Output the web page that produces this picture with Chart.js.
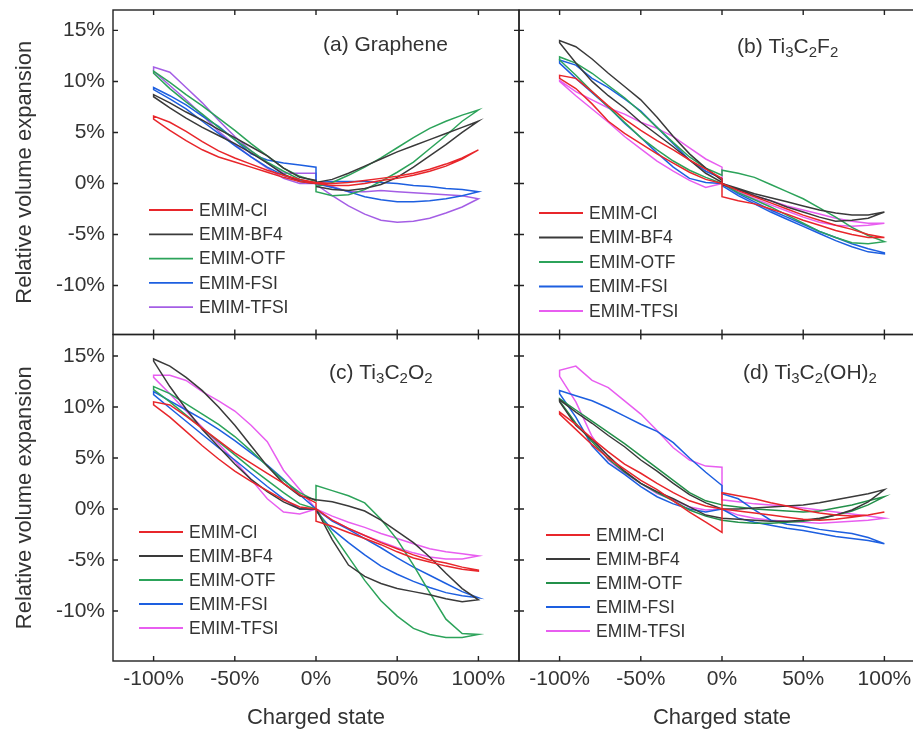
<!DOCTYPE html>
<html>
<head>
<meta charset="utf-8">
<script src="https://cdn.jsdelivr.net/npm/chart.js@4.4.0/dist/chart.umd.min.js"></script>
<style>
  html, body { margin: 0; padding: 0; background: #fff; overflow: hidden; }
  #wrap { position: relative; width: 913px; height: 732px; overflow: hidden; background: #fff; }
  #wrap canvas { position: absolute; left: 0; top: 0; }
</style>
</head>
<body>
<div id="wrap">
  <canvas id="pa" width="940" height="732"></canvas>
  <canvas id="pb" width="940" height="732"></canvas>
  <canvas id="pc" width="940" height="732"></canvas>
  <canvas id="pd" width="940" height="732"></canvas>
</div>
<script>
// Relative volume expansion vs charged state, four electrodes x five EMIM electrolytes
const NEG_X = [-100, -90, -80, -70, -60, -50, -40, -30, -20, -10, 0];
const POS_X = [0, 10, 20, 30, 40, 50, 60, 70, 80, 90, 100];
const X_TICKS = [-100, -50, 0, 50, 100];
const Y_TICKS = [-10, -5, 0, 5, 10, 15];
const SERIES = ['EMIM-Cl', 'EMIM-BF4', 'EMIM-OTF', 'EMIM-FSI', 'EMIM-TFSI'];

// each loop: [neg branch out, neg branch back, pos branch out, pos branch back] (values in %)
// (a) Graphene
const aCl   = [[6.6,6.0,5.1,4.1,3.2,2.5,1.9,1.3,0.8,0.4,0.1], [6.3,5.2,4.2,3.3,2.6,2.1,1.6,1.1,0.6,0.2,0.0],
               [0.0,-0.2,-0.2,0.0,0.3,0.5,0.8,1.2,1.7,2.4,3.3], [0.1,0.0,0.1,0.3,0.5,0.7,1.0,1.4,1.9,2.5,3.3]];
const aBF4  = [[8.5,7.4,6.4,5.5,4.7,3.9,3.0,2.0,0.9,0.2,0.0], [8.7,7.9,7.0,6.2,5.3,4.5,3.6,2.7,1.5,0.6,0.3],
               [0.1,0.4,1.0,1.7,2.4,3.1,3.7,4.3,4.9,5.5,6.1], [-0.3,-0.6,-0.7,-0.5,-0.1,0.6,1.6,2.7,3.8,5.0,6.1]];
const aOTF  = [[10.8,9.3,8.0,6.8,5.5,4.3,3.2,2.1,1.2,0.4,0.0], [11.0,9.9,8.7,7.6,6.4,5.2,3.9,2.7,1.5,0.7,0.2],
               [-0.8,-1.2,-1.1,-0.6,0.2,1.1,2.1,3.4,4.7,6.1,7.2], [-0.3,0.1,0.8,1.6,2.5,3.5,4.5,5.4,6.1,6.7,7.2]];
const aFSI  = [[9.2,8.3,7.3,6.1,4.9,3.7,2.6,1.6,0.8,0.3,0.0], [9.4,8.6,7.7,6.6,5.6,4.3,2.9,2.3,2.0,1.8,1.6],
               [0.1,0.2,0.2,0.2,0.1,0.0,-0.2,-0.3,-0.5,-0.6,-0.8], [0.0,-0.4,-0.8,-1.3,-1.6,-1.8,-1.8,-1.7,-1.5,-1.2,-0.8]];
const aTFSI = [[11.0,9.6,8.2,6.7,5.1,3.8,2.6,1.5,0.5,0.0,0.0], [11.4,10.9,9.4,7.9,6.2,4.6,3.2,2.0,1.0,1.0,1.0],
               [0.0,-0.3,-0.8,-0.8,-0.7,-0.8,-0.9,-1.0,-1.1,-1.2,-1.5], [-0.1,-1.2,-2.2,-3.0,-3.6,-3.8,-3.7,-3.4,-2.9,-2.3,-1.5]];

// (b) Ti3C2F2
const bCl   = [[10.3,9.3,7.8,6.1,4.9,3.9,2.9,2.0,1.1,0.4,0.0], [10.6,10.3,9.0,7.6,6.3,5.2,4.2,3.3,2.3,1.4,0.5],
               [-1.3,-1.7,-2.0,-2.5,-3.0,-3.6,-4.1,-4.6,-5.0,-5.3,-5.3], [0.0,-0.7,-1.3,-1.9,-2.5,-3.1,-3.6,-4.1,-4.5,-5.0,-5.3]];
const bBF4  = [[13.8,11.8,10.0,8.6,7.4,6.0,4.8,3.6,2.3,1.0,0.1], [14.0,13.4,12.2,10.8,9.5,8.2,6.5,4.6,2.9,1.5,0.3],
               [0.0,-0.5,-1.0,-1.4,-1.8,-2.2,-2.6,-2.9,-3.1,-3.1,-2.8], [-0.1,-0.6,-1.2,-1.7,-2.3,-2.8,-3.3,-3.7,-3.6,-3.4,-2.8]];
const bOTF  = [[12.1,10.6,9.0,7.5,6.0,4.5,3.3,2.2,1.3,0.6,0.0], [12.4,11.8,10.8,9.6,8.4,7.0,5.5,4.0,2.6,1.5,0.8],
               [1.3,1.0,0.6,-0.1,-0.8,-1.5,-2.4,-3.3,-4.3,-5.1,-5.7], [0.0,-0.9,-1.6,-2.3,-3.1,-3.9,-4.7,-5.3,-5.8,-5.9,-5.7]];
const bFSI  = [[11.8,10.3,8.9,7.5,5.9,4.5,3.0,1.6,0.5,0.1,0.0], [12.1,11.6,10.3,9.4,8.3,7.1,5.5,3.9,2.3,1.2,0.5],
               [0.0,-1.0,-1.8,-2.6,-3.3,-4.0,-4.7,-5.3,-5.9,-6.4,-6.8], [-0.2,-1.2,-2.0,-2.8,-3.5,-4.2,-4.9,-5.6,-6.2,-6.7,-6.9]];
const bTFSI = [[10.0,8.6,7.3,6.0,4.6,3.4,2.2,1.2,0.3,-0.4,0.0], [10.1,9.0,8.2,7.4,6.8,6.0,5.4,4.6,3.5,2.4,1.6],
               [0.0,-0.6,-1.2,-1.7,-2.2,-2.6,-3.0,-3.4,-3.7,-3.9,-3.9], [-0.1,-0.8,-1.5,-2.1,-2.7,-3.3,-3.8,-4.1,-4.2,-4.1,-3.9]];

// (c) Ti3C2O2
const cCl   = [[10.2,9.0,7.6,6.2,4.9,3.7,2.7,1.8,0.9,0.2,0.0], [10.5,10.2,9.1,7.9,6.7,5.5,4.5,3.5,2.5,1.4,0.6],
               [-1.2,-1.7,-2.3,-2.9,-3.5,-4.2,-4.8,-5.2,-5.6,-5.9,-6.1], [0.0,-1.1,-1.9,-2.6,-3.3,-3.9,-4.5,-5.0,-5.3,-5.7,-6.0]];
const cBF4  = [[14.5,12.0,9.8,7.8,6.1,4.4,2.9,1.7,0.7,0.0,0.0], [14.7,14.0,12.9,11.6,10.0,8.2,6.2,4.2,2.5,1.3,0.9],
               [0.9,0.7,0.3,-0.2,-1.1,-2.2,-3.3,-4.7,-6.3,-7.8,-8.9], [0.0,-3.0,-5.5,-6.6,-7.3,-7.8,-8.1,-8.4,-8.8,-9.1,-8.9]];
const cOTF  = [[11.7,10.5,9.2,7.9,6.6,5.3,4.0,2.8,1.6,0.5,0.0], [12.0,11.3,10.3,9.3,8.3,7.1,5.7,4.2,2.8,1.6,0.8],
               [2.3,1.8,1.3,0.6,-1.0,-3.0,-5.5,-8.2,-10.8,-12.2,-12.3], [0.0,-2.4,-4.7,-7.0,-9.0,-10.5,-11.7,-12.3,-12.6,-12.6,-12.3]];
const cFSI  = [[11.2,9.9,8.6,7.3,6.0,4.8,3.5,2.2,1.0,0.0,0.0], [11.5,10.6,9.7,8.8,7.8,6.7,5.5,4.3,2.9,1.4,0.0],
               [0.0,-1.2,-2.0,-2.9,-3.8,-4.8,-5.7,-6.5,-7.3,-8.1,-8.7], [-0.2,-2.0,-3.3,-4.5,-5.6,-6.4,-7.1,-7.7,-8.2,-8.5,-8.7]];
const cTFSI = [[12.9,11.3,9.6,8.0,6.4,4.7,2.9,1.0,-0.3,-0.5,0.0], [13.1,13.1,12.6,11.5,10.6,9.6,8.2,6.6,3.8,1.9,0.0],
               [0.0,-0.7,-1.3,-1.8,-2.4,-2.9,-3.4,-3.9,-4.2,-4.4,-4.6], [-0.1,-1.1,-1.9,-2.6,-3.2,-3.8,-4.3,-4.7,-4.9,-4.9,-4.6]];

// (d) Ti3C2(OH)2
const dCl   = [[9.5,8.3,6.9,5.6,4.4,3.5,2.5,1.6,0.8,0.3,0.0], [9.3,7.8,6.3,5.0,3.9,2.8,1.9,0.8,-0.3,-1.3,-2.3],
               [1.6,1.3,1.0,0.6,0.3,-0.1,-0.4,-0.6,-0.7,-0.6,-0.3], [0.0,-0.2,-0.4,-0.6,-0.8,-1.0,-1.1,-1.0,-0.8,-0.6,-0.3]];
const dBF4  = [[10.7,9.5,8.4,7.2,6.1,4.8,3.7,2.5,1.4,0.6,0.0], [10.5,8.2,6.8,5.2,3.7,2.5,1.7,1.0,0.2,-0.6,-0.9],
               [-0.9,-1.0,-1.1,-1.2,-1.2,-1.1,-0.9,-0.6,-0.1,0.7,1.9], [0.0,0.0,0.1,0.2,0.3,0.4,0.6,0.9,1.2,1.5,1.9]];
const dOTF  = [[10.8,9.7,8.6,7.5,6.4,5.2,4.0,2.8,1.6,0.8,0.4], [10.6,8.4,6.6,4.9,3.6,2.5,1.6,0.8,-0.1,-0.7,-1.1],
               [-1.1,-1.3,-1.4,-1.4,-1.3,-1.2,-1.0,-0.6,-0.2,0.4,1.2], [0.4,0.2,0.0,-0.1,-0.2,-0.3,-0.2,0.1,0.4,0.8,1.2]];
const dFSI  = [[11.3,9.0,6.2,4.5,3.4,2.2,1.2,0.5,0.0,-0.3,0.0], [11.6,11.1,10.6,9.9,9.1,8.3,7.6,6.5,5.0,3.6,2.3],
               [1.5,1.0,-0.1,-1.1,-1.5,-1.7,-2.0,-2.2,-2.4,-2.8,-3.4], [0.0,-0.9,-1.3,-1.6,-1.9,-2.1,-2.4,-2.7,-2.9,-3.1,-3.4]];
const dTFSI = [[13.0,10.5,7.1,4.8,3.5,2.5,1.5,0.9,0.2,-0.1,0.0], [13.6,14.0,12.6,11.9,10.6,9.3,7.7,6.0,4.8,4.2,4.1],
               [0.9,0.7,0.5,0.4,0.3,0.1,-0.1,-0.3,-0.5,-0.7,-0.9], [0.0,-0.6,-0.9,-1.1,-1.2,-1.3,-1.4,-1.3,-1.2,-1.1,-0.9]];

const FONT = '"Liberation Sans", Arial, Helvetica, sans-serif';
const TXT = '#333';
const RED = '#e8262b', BLACK = '#3a3a3a', GREEN = '#2ca35a', GREEN_D = '#23904a', BLUE = '#1d5fe0';
const PURPLE = '#a45ee5', MAGENTA = '#e85ef0';

function loopPoints(b){
  const pts = [];
  for(let i=10;i>=0;i--) pts.push({x:NEG_X[i], y:b[0][i]});
  for(let i=0;i<=10;i++) pts.push({x:NEG_X[i], y:b[1][i]});
  for(let i=0;i<=10;i++) pts.push({x:POS_X[i], y:b[2][i]});
  for(let i=10;i>=0;i--) pts.push({x:POS_X[i], y:b[3][i]});
  return pts;
}

// frame, inward ticks, legend and panel label
const panelDeco = {
  id: 'panelDeco',
  afterDraw(chart){
    const o = chart.options.plugins.panelDeco;
    const ctx = chart.ctx, a = chart.chartArea;
    const xs = chart.scales.x, ys = chart.scales.y;
    ctx.save();
    ctx.strokeStyle = '#222';
    ctx.lineWidth = 1.4;
    ctx.strokeRect(a.left, a.top, a.right-a.left, a.bottom-a.top);
    ctx.beginPath();
    X_TICKS.forEach(v => {
      const px = xs.getPixelForValue(v);
      ctx.moveTo(px, a.bottom); ctx.lineTo(px, a.bottom-5);
      ctx.moveTo(px, a.top); ctx.lineTo(px, a.top+5);
    });
    Y_TICKS.forEach(v => {
      const py = ys.getPixelForValue(v);
      ctx.moveTo(a.left, py); ctx.lineTo(a.left+5, py);
      ctx.moveTo(a.right, py); ctx.lineTo(a.right-5, py);
    });
    ctx.stroke();

    // legend
    ctx.font = '17.5px ' + FONT;
    ctx.textBaseline = 'middle';
    ctx.textAlign = 'left';
    chart.data.datasets.forEach((ds, i) => {
      const y = a.top + o.legY + i*o.legStep;
      ctx.strokeStyle = ds.borderColor;
      ctx.lineWidth = 1.8;
      ctx.beginPath();
      ctx.moveTo(a.left + o.legX, y); ctx.lineTo(a.left + o.legX + 44, y);
      ctx.stroke();
      ctx.fillStyle = TXT;
      ctx.fillText(ds.label, a.left + o.legX + 50, y + 1);
    });

    // panel label with subscripts
    let x = a.left + o.titleX;
    const y = a.top + o.titleY;
    o.title.forEach(seg => {
      const sub = seg[1];
      ctx.font = (sub ? '15px ' : '21px ') + FONT;
      ctx.fillStyle = TXT;
      ctx.fillText(seg[0], x, sub ? y + 6 : y);
      x += ctx.measureText(seg[0]).width;
    });
    ctx.restore();
  }
};

function makePanel(id, p){
  const W = 940, H = 732;
  const datasets = p.loops.map((b, i) => ({
    label: SERIES[i],
    data: loopPoints(b),
    borderColor: p.colors[i],
    borderWidth: 1.5,
    pointRadius: 0,
    showLine: true,
    fill: false,
    tension: 0
  }));
  new Chart(document.getElementById(id), {
    type: 'scatter',
    data: { datasets: datasets },
    options: {
      responsive: false,
      animation: false,
      events: [],
      layout: { padding: {
        left: p.showY ? 0 : p.l,
        top: p.t,
        right: W - p.r,
        bottom: p.showX ? 0 : H - p.b
      }},
      plugins: {
        legend: { display: false },
        tooltip: { enabled: false },
        panelDeco: { title: p.title, titleX: p.titleX, titleY: p.titleY,
                     legX: p.legX, legY: p.legY, legStep: p.legStep }
      },
      scales: {
        x: {
          type: 'linear', min: -125, max: 125,
          display: p.showX,
          afterBuildTicks: s => { s.ticks = X_TICKS.map(v => ({value: v})); },
          afterFit: s => {
            s.height = p.showX ? H - p.b : 0;
            s.paddingLeft = 0; s.paddingRight = 0;
          },
          grid: { display: false, drawTicks: false },
          border: { display: false },
          ticks: { color: TXT, font: { family: FONT, size: 21 }, padding: 6,
                   maxRotation: 0, callback: v => v + '%' },
          title: { display: true, text: 'Charged state', color: TXT,
                   font: { family: FONT, size: 22 }, padding: { top: 0, bottom: 1 } }
        },
        y: {
          type: 'linear', min: p.ymin, max: p.ymax,
          display: p.showY,
          afterBuildTicks: s => { s.ticks = Y_TICKS.map(v => ({value: v})); },
          afterFit: s => {
            s.width = p.showY ? p.l : 0;
            s.paddingTop = 0; s.paddingBottom = 0;
          },
          grid: { display: false, drawTicks: false },
          border: { display: false },
          ticks: { color: TXT, font: { family: FONT, size: 21 }, padding: 8,
                   callback: v => v + '%' },
          title: { display: true, text: 'Relative volume expansion', color: TXT,
                   font: { family: FONT, size: 22 }, padding: { top: 12, bottom: 0 } }
        }
      }
    },
    plugins: [panelDeco]
  });
}

makePanel('pa', { l: 113, t: 10, r: 519, b: 334.5, ymin: -14.8, ymax: 17.0, showY: true, showX: false,
  loops: [aCl, aBF4, aOTF, aFSI, aTFSI], colors: [RED, BLACK, GREEN, BLUE, PURPLE],
  title: [['(a) Graphene', 0]], titleX: 210, titleY: 35, legX: 36, legY: 200, legStep: 24.3 });

makePanel('pb', { l: 519, t: 10, r: 925, b: 334.5, ymin: -14.8, ymax: 17.0, showY: false, showX: false,
  loops: [bCl, bBF4, bOTF, bFSI, bTFSI], colors: [RED, BLACK, GREEN, BLUE, MAGENTA],
  title: [['(b) Ti', 0], ['3', 1], ['C', 0], ['2', 1], ['F', 0], ['2', 1]], titleX: 218, titleY: 37,
  legX: 20, legY: 203, legStep: 24.5 });

makePanel('pc', { l: 113, t: 334.5, r: 519, b: 661, ymin: -14.9, ymax: 17.1, showY: true, showX: true,
  loops: [cCl, cBF4, cOTF, cFSI, cTFSI], colors: [RED, BLACK, GREEN, BLUE, MAGENTA],
  title: [['(c) Ti', 0], ['3', 1], ['C', 0], ['2', 1], ['O', 0], ['2', 1]], titleX: 216, titleY: 38.5,
  legX: 26, legY: 197.5, legStep: 24 });

makePanel('pd', { l: 519, t: 334.5, r: 925, b: 661, ymin: -14.9, ymax: 17.1, showY: false, showX: true,
  loops: [dCl, dBF4, dOTF, dFSI, dTFSI], colors: [RED, BLACK, GREEN_D, BLUE, MAGENTA],
  title: [['(d) Ti', 0], ['3', 1], ['C', 0], ['2', 1], ['(OH)', 0], ['2', 1]], titleX: 224, titleY: 38.5,
  legX: 27, legY: 200.5, legStep: 24 });
</script>
</body>
</html>
